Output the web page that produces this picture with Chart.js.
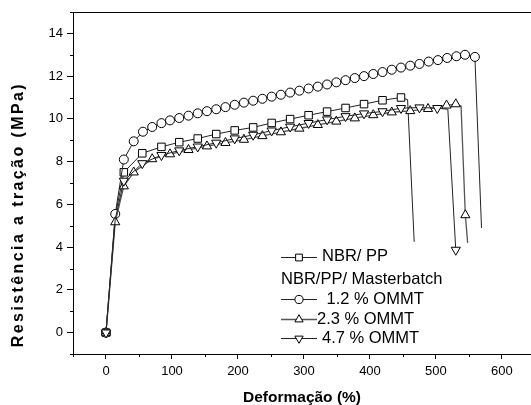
<!DOCTYPE html>
<html><head><meta charset="utf-8">
<script src="https://cdn.jsdelivr.net/npm/chart.js@4/dist/chart.umd.min.js"></script>
<style>html,body{margin:0;padding:0;background:#fff;overflow:hidden}#wrap{width:531px;height:405px;position:relative}</style>
</head><body><div id="wrap"><canvas id="c" width="531" height="405"></canvas></div>
<script>
// ---- text ----
const xTitle = 'Deformação (%)';
const yTitle = 'Resistência a tração (MPa)';
const seriesNames = ['NBR/ PP', ' 1.2 % OMMT', '2.3 % OMMT', '4.7 % OMMT'];
const legendGroupLabel = 'NBR/PP/ Masterbatch';
const xTickLabels = [0, 100, 200, 300, 400, 500, 600];
const yTickLabels = [0, 2, 4, 6, 8, 10, 12, 14];

// ---- data (strain %, stress MPa) ----
// NBR/PP (squares)
const nbrppMarkX = [0, 27, 55, 84, 111, 139, 167, 195, 223, 251, 279, 307, 335, 363, 391, 419, 447];
const nbrppMarkY = [0, 7.5, 8.39, 8.69, 8.91, 9.08, 9.29, 9.46, 9.6, 9.81, 9.99, 10.17, 10.34, 10.51, 10.69, 10.87, 11.0];
const nbrppTraceX = [14, 457, 467];
const nbrppTraceY = [5.45, 10.9, 4.25];
// 1.2 % OMMT (circles)
const omm12MarkX = [0, 14, 27, 42, 56, 70, 84, 97, 111, 125, 139, 153, 167, 181, 195, 209, 223, 237, 251, 265, 279, 293, 307, 321, 335, 349, 363, 377, 391, 405, 419, 433, 447, 461, 475, 489, 503, 517, 531, 544, 559];
const omm12MarkY = [0, 5.55, 8.1, 8.95, 9.4, 9.62, 9.8, 9.93, 10.04, 10.15, 10.26, 10.36, 10.45, 10.55, 10.66, 10.76, 10.85, 10.94, 11.04, 11.13, 11.23, 11.32, 11.42, 11.51, 11.61, 11.71, 11.81, 11.91, 12.0, 12.1, 12.19, 12.3, 12.4, 12.49, 12.57, 12.68, 12.75, 12.85, 12.93, 13.0, 12.9];
const omm12TraceX = [569];
const omm12TraceY = [4.9];
// 2.3 % OMMT (triangles up)
const omm23MarkX = [0, 14, 27, 42, 70, 97, 125, 153, 181, 209, 237, 265, 293, 321, 349, 377, 405, 433, 461, 488, 516, 530, 544.5];
const omm23MarkY = [0, 5.17, 6.85, 7.5, 8.12, 8.35, 8.55, 8.72, 8.88, 9.03, 9.2, 9.38, 9.55, 9.72, 9.88, 10.03, 10.18, 10.31, 10.37, 10.47, 10.63, 10.69, 5.5];
const omm23TraceX = [538, 548];
const omm23TraceY = [10.6, 4.2];
// 4.7 % OMMT (triangles down)
const omm47MarkX = [0, 27, 55, 84, 111, 139, 167, 195, 223, 251, 279, 307, 335, 363, 391, 419, 447, 475, 502, 530];
const omm47MarkY = [0, 7.1, 7.92, 8.3, 8.52, 8.7, 8.88, 9.08, 9.25, 9.45, 9.63, 9.8, 9.97, 10.12, 10.25, 10.35, 10.5, 10.53, 10.5, 3.87];
const omm47TraceX = [14, 518];
const omm47TraceY = [5.3, 10.45];

// ---- build ----
function merge(mx, my, tx, ty) {
  const pts = mx.map((x, i) => ({x, y: my[i], m: true}))
    .concat(tx.map((x, i) => ({x, y: ty[i], m: false})));
  pts.sort((a, b) => a.x - b.x);
  return pts;
}
const styles = [
  {style: 'rect', r: 5.3, rot: 0, line: '#222', lw: 1},
  {style: 'circle', r: 4.5, rot: 0, line: '#222', lw: 1},
  {style: 'triangle', r: 5.3, rot: 0, line: '#555', lw: 1.3},
  {style: 'triangle', r: 5.3, rot: 180, line: '#222', lw: 1}
];
const raw = [
  merge(nbrppMarkX, nbrppMarkY, nbrppTraceX, nbrppTraceY),
  merge(omm12MarkX, omm12MarkY, omm12TraceX, omm12TraceY),
  merge(omm23MarkX, omm23MarkY, omm23TraceX, omm23TraceY),
  merge(omm47MarkX, omm47MarkY, omm47TraceX, omm47TraceY)
];
const datasets = raw.map((pts, k) => ({
  label: seriesNames[k],
  data: pts.map(p => ({x: p.x, y: p.y})),
  order: raw.length - k,
  showLine: true,
  tension: 0,
  borderColor: styles[k].line,
  borderWidth: styles[k].lw,
  pointStyle: styles[k].style,
  pointRotation: styles[k].rot,
  pointRadius: pts.map(p => p.m ? styles[k].r : 0),
  pointHoverRadius: pts.map(p => p.m ? styles[k].r : 0),
  pointBackgroundColor: '#fff',
  pointBorderColor: '#000',
  pointBorderWidth: 1,
  fill: false
}));

const tickFont = {family: "'Liberation Sans', Arial, sans-serif", size: 13};

const framePlugin = {
  id: 'frame',
  afterDraw(chart) {
    const {ctx, chartArea: a, scales: {x, y}} = chart;
    ctx.save();
    ctx.strokeStyle = '#000';
    ctx.lineWidth = 1;
    ctx.beginPath();
    ctx.moveTo(a.left, Math.round(a.top) + 0.5);
    ctx.lineTo(a.right, Math.round(a.top) + 0.5);
    x.ticks.forEach(t => {
      if (t.value % 100 !== 0) {
        const px = Math.round(x.getPixelForValue(t.value)) + 0.5;
        ctx.moveTo(px, a.bottom); ctx.lineTo(px, a.bottom + 3);
      }
    });
    y.ticks.forEach(t => {
      if (t.value % 2 !== 0) {
        const py = Math.round(y.getPixelForValue(t.value)) + 0.5;
        ctx.moveTo(a.left, py); ctx.lineTo(a.left - 3, py);
      }
    });
    ctx.stroke();
    ctx.restore();
  }
};

const legendPlugin = {
  id: 'customLegend',
  afterDatasetsDraw(chart) {
    const {ctx, chartArea: a} = chart;
    const x0 = a.left + 208, x1 = x0 + 36, xm = (x0 + x1) / 2;
    const rows = [
      {dy: 0, k: 0, tx: x1 + 5},
      {dy: 22.6, k: -1, tx: x0},
      {dy: 42.3, k: 1, tx: x1 + 5},
      {dy: 62.3, k: 2, tx: x1},
      {dy: 81.3, k: 3, tx: x1 + 5}
    ];
    ctx.save();
    ctx.font = "16.5px 'Liberation Sans', Arial, sans-serif";
    ctx.fillStyle = '#000';
    ctx.textBaseline = 'middle';
    ctx.textAlign = 'left';
    rows.forEach(r => {
      const yy = a.top + 244.7 + r.dy;
      if (r.k < 0) { ctx.fillText(legendGroupLabel, r.tx, yy); return; }
      const s = styles[r.k];
      ctx.strokeStyle = s.line; ctx.lineWidth = s.lw;
      ctx.beginPath(); ctx.moveTo(x0, Math.round(yy) + 0.5); ctx.lineTo(x1, Math.round(yy) + 0.5); ctx.stroke();
      ctx.fillStyle = '#fff'; ctx.strokeStyle = '#000'; ctx.lineWidth = 1;
      Chart.helpers.drawPoint(ctx, {pointStyle: s.style, rotation: s.rot, radius: s.r * 0.9, borderWidth: 1}, xm, Math.round(yy) + 0.5);
      ctx.fillStyle = '#000';
      ctx.fillText(seriesNames[r.k], r.tx, yy);
    });
    ctx.restore();
  }
};

new Chart(document.getElementById('c'), {
  type: 'scatter',
  data: {datasets},
  plugins: [framePlugin, legendPlugin],
  options: {
    responsive: false,
    animation: false,
    devicePixelRatio: 1,
    layout: {autoPadding: false, padding: {top: 12, right: 0, left: 0, bottom: 0}},
    plugins: {legend: {display: false}, tooltip: {enabled: false}},
    scales: {
      x: {
        type: 'linear', min: -50, max: 644,
        afterFit(s) { s.height = 51; s.paddingLeft = 0; s.paddingRight = 0; },
        border: {display: true, color: '#000', width: 1},
        grid: {drawOnChartArea: false, drawTicks: true, tickLength: 5,
               tickColor: c => (c.tick && c.tick.value % 100 === 0) ? '#000' : 'rgba(0,0,0,0)'},
        ticks: {stepSize: 50, includeBounds: false, autoSkip: false, maxRotation: 0, color: '#000', font: tickFont, padding: 5,
                callback: v => xTickLabels.includes(v) ? String(v) : ''},
        title: {display: true, text: xTitle, color: '#000', padding: {top: 0, bottom: 0},
                font: {family: "'Liberation Sans', Arial, sans-serif", size: 15.5, weight: 'bold', lineHeight: 1}}
      },
      y: {
        type: 'linear', min: -1, max: 15,
        afterFit(s) {
          s.width = 73; s.paddingTop = 0; s.paddingBottom = 0;
          if (!s._spaced) {
            const orig = s.drawTitle;
            s.drawTitle = function () {
              const c = this.ctx, prev = c.letterSpacing;
              c.letterSpacing = '2.4px';
              orig.call(this);
              c.letterSpacing = prev || '0px';
            };
            s._spaced = true;
          }
        },
        border: {display: true, color: '#000', width: 1},
        grid: {drawOnChartArea: false, drawTicks: true, tickLength: 6,
               tickColor: c => (c.tick && c.tick.value % 2 === 0) ? '#000' : 'rgba(0,0,0,0)'},
        ticks: {stepSize: 1, includeBounds: false, autoSkip: false, color: '#000', font: tickFont, padding: 4,
                callback: v => yTickLabels.includes(v) ? String(v) : ''},
        title: {display: true, text: ' ' + yTitle, align: 'start', color: '#000', padding: {top: 11, bottom: 0},
                font: {family: "'Liberation Sans', Arial, sans-serif", size: 16, weight: 'bold', lineHeight: 1}}
      }
    }
  }
});
</script>
</body></html>
